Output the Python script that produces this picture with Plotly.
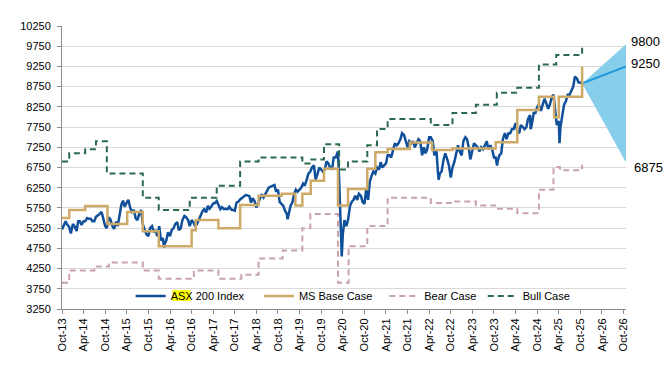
import plotly.graph_objects as go
import pandas as pd

# ---------------- DATA ----------------
# ASX 200 index, read semi-monthly (1st and 15th of each month) from Oct-2013 to Oct-2025
asx_values = [
    # 2013 Oct-Dec
    5220, 5300, 5420, 5330, 5280, 5120,
    # 2014
    5350, 5300, 5180, 5420, 5420, 5330, 5420, 5420, 5500, 5480, 5480, 5420,
    5420, 5530, 5560, 5600, 5650, 5450, 5300, 5250, 5520, 5460, 5300, 5230,
    # 2015
    5410, 5300, 5600, 5830, 5930, 5780, 5880, 5950, 5750, 5650, 5700, 5500,
    5450, 5600, 5700, 5350, 5200, 5100, 5050, 5250, 5300, 5150, 5200, 5050,
    # 2016
    5300, 4950, 5000, 4850, 4950, 5150, 5050, 5200, 5250, 5350, 5400, 5200,
    5250, 5450, 5550, 5520, 5450, 5300, 5450, 5400, 5300, 5350, 5450, 5580,
    # 2017
    5670, 5720, 5640, 5800, 5730, 5780, 5860, 5870, 5920, 5830, 5720, 5770,
    5720, 5730, 5720, 5780, 5710, 5700, 5680, 5880, 5910, 5960, 6000, 6020,
    # 2018
    6070, 6060, 6040, 5880, 5990, 5930, 5760, 5850, 6010, 6090, 6010, 6090,
    6190, 6250, 6280, 6300, 6320, 6150, 6200, 5900, 5830, 5800, 5670, 5600,
    # 2019
    5650, 5800, 5900, 6100, 6200, 6150, 6200, 6250, 6350, 6300, 6450, 6600,
    6650, 6750, 6800, 6450, 6600, 6750, 6700, 6650, 6700, 6900, 6850, 6750,
    # 2020
    6700, 7000, 7000, 7100, 6450, 5200, 5100, 5450, 5300, 5450, 5800, 5900,
    5950, 6050, 5950, 6100, 6050, 5900, 5850, 6200, 5950, 6400, 6550, 6650,
    # 2021
    6600, 6750, 6700, 6880, 6750, 6800, 6850, 7050, 7050, 7000, 7200, 7350,
    7300, 7350, 7450, 7600, 7550, 7400, 7250, 7400, 7350, 7400, 7250, 7350,
    # 2022
    7450, 7400, 7050, 7250, 7100, 7200, 7500, 7500, 7400, 7050, 7200, 6600,
    6600, 6650, 6950, 7100, 6950, 6800, 6500, 6750, 6900, 7100, 7300, 7150,
    # 2023
    7050, 7400, 7500, 7450, 7250, 6950, 7200, 7350, 7300, 7250, 7150, 7250,
    7200, 7300, 7400, 7200, 7300, 7200, 7000, 7000, 6900, 7050, 7100, 7450,
    # 2024
    7600, 7450, 7600, 7600, 7700, 7700, 7850, 7650, 7600, 7800, 7750, 7700,
    7750, 7950, 8050, 7800, 8100, 8100, 8250, 8300, 8150, 8300, 8450, 8350,
    # 2025 Jan-Oct
    8200, 8300, 8500, 8550, 8200, 7800, 7900, 7750, 8100, 8300, 8400, 8550,
    8550, 8650, 8750, 9000, 8950, 8850, 8850, 8830,
]
# extra readings at sharp turning points
asx_extra_dates = ["2016-02-11", "2018-12-21", "2020-02-20", "2020-03-23",
                   "2022-06-20", "2023-10-27", "2024-08-06", "2025-04-07"]
asx_extra_values = [4770, 5470, 7150, 4550, 6450, 6800, 7700, 7350]

# Morgan Stanley scenarios (step series: date each level starts, level)
base_dates = ["2013-10-01", "2013-12-01", "2014-04-15", "2014-10-20", "2015-04-05",
              "2015-08-15", "2015-12-28", "2016-10-01", "2016-11-05", "2017-05-15",
              "2017-11-15", "2018-04-20", "2018-11-01", "2019-02-25", "2019-04-25",
              "2019-07-05", "2019-10-25", "2020-02-20", "2020-05-15", "2020-10-25",
              "2021-01-01", "2021-04-15", "2021-10-20", "2022-04-25", "2022-10-15",
              "2023-10-15", "2024-04-15", "2024-10-15", "2025-02-20", "2025-04-01",
              "2025-10-15"]
base_values = [5500, 5700, 5800, 5350, 5650,
               5175, 4800, 5200, 5450, 5250,
               5820, 6050, 6100, 5810, 6100,
               6420, 6720, 5810, 6220, 6720,
               7130, 7210, 7370, 7180, 7220,
               7375, 8170, 8500, 7990, 8500,
               9250]

bear_dates = ["2013-10-01", "2013-12-01", "2014-07-01", "2014-11-01", "2015-08-15",
              "2015-12-28", "2016-10-20", "2017-05-15", "2017-11-25", "2018-04-20",
              "2018-11-10", "2019-04-25", "2019-07-01", "2020-02-20", "2020-05-20",
              "2020-10-25", "2021-04-15", "2022-04-15", "2022-10-15", "2023-05-01",
              "2023-10-25", "2024-04-15", "2024-10-15", "2025-02-15", "2025-04-10",
              "2025-10-15"]
bear_values = [3900, 4200, 4300, 4400, 4200,
               4000, 4200, 4000, 4100, 4500,
               4700, 5250, 5600, 3900, 4800,
               5300, 6000, 5870, 5910, 5810,
               5730, 5620, 6200, 6760, 6680,
               6820]

bull_dates = ["2013-10-01", "2013-12-01", "2014-04-15", "2014-07-15", "2014-10-15",
              "2015-08-15", "2015-12-28", "2016-09-15", "2017-05-01", "2017-11-15",
              "2018-04-20", "2019-04-25", "2019-06-25", "2019-10-25", "2020-03-01",
              "2020-05-15", "2020-10-25", "2021-01-15", "2021-04-15", "2022-04-15",
              "2022-10-15", "2023-05-01", "2023-10-25", "2024-04-15", "2024-10-15",
              "2025-03-10", "2025-10-15"]
bull_values = [6900, 7100, 7200, 7400, 6600,
               6000, 5700, 6000, 6300, 6900,
               7000, 6850, 6950, 7325, 6700,
               6900, 7300, 7700, 7950, 7800,
               8100, 8300, 8600, 8720, 9300,
               9530, 9800]

# 12-month targets (fan)
fan_start_date = "2025-10-15"
fan_end_date = "2026-10-21"
target_labels = ["9800", "9250", "6875"]
target_values = [9800, 9250, 6875]

# axis
x_range = ["2013-10-01", "2026-10-21"]
y_min, y_max, y_step = 3250, 10250, 500

# ---------------- BUILD ----------------
def semi_monthly(y0, m0, y1, m1):
    out = []
    y, m = y0, m0
    while (y, m) <= (y1, m1):
        out.append(f"{y}-{m:02d}-01")
        out.append(f"{y}-{m:02d}-15")
        m += 1
        if m > 12:
            m, y = 1, y + 1
    return out

grid_dates = semi_monthly(2013, 10, 2025, 10)
asx = pd.DataFrame({"d": pd.to_datetime(grid_dates + asx_extra_dates),
                    "v": asx_values + asx_extra_values}).sort_values("d")

BLUE = "#10509A"
GOLD = "#CDAA68"
PINK = "#C9A2AF"
GREEN = "#2B6A4E"
FAN = "#87CEEB"
FANLINE = "#1E98DC"
FONT = "Liberation Sans, Arial, sans-serif"

fan_start_val = asx_values[-1]
bull_t, base_t, bear_t = target_values

fig = go.Figure()
fig.add_trace(go.Scatter(
    x=[fan_start_date, fan_end_date, fan_end_date, fan_start_date],
    y=[fan_start_val, bull_t, bear_t, fan_start_val],
    mode="lines", fill="toself", fillcolor=FAN, line=dict(width=0, color=FAN),
    showlegend=False, hoverinfo="skip"))
fig.add_trace(go.Scatter(
    x=[fan_start_date, fan_end_date], y=[fan_start_val, base_t],
    mode="lines", line=dict(color=FANLINE, width=2), showlegend=False))

fig.add_trace(go.Scatter(x=asx["d"], y=asx["v"], mode="lines", name="ASX 200 Index",
                         line=dict(color=BLUE, width=2.5), legend="legend"))
fig.add_trace(go.Scatter(x=base_dates, y=base_values, mode="lines", name="MS Base Case",
                         line=dict(color=GOLD, width=2.5, shape="hv"), legend="legend2"))
fig.add_trace(go.Scatter(x=bear_dates, y=bear_values, mode="lines", name="Bear Case",
                         line=dict(color=PINK, width=2, shape="hv", dash="6px,4px"),
                         legend="legend3"))
fig.add_trace(go.Scatter(x=bull_dates, y=bull_values, mode="lines", name="Bull Case",
                         line=dict(color=GREEN, width=2, shape="hv", dash="6px,4px"),
                         legend="legend4"))

# The page body has an 8px default margin, so the figure is drawn 8px in from
# the window's top-left corner. Screen-space targets are converted accordingly.
OFF = 8
W, H = 671 - 2 * OFF, 374 - 2 * OFF
PLOT_L, PLOT_R, PLOT_T, PLOT_B = 59, 626, 25, 309   # screen px of plot area
L = PLOT_L - OFF
T = PLOT_T - OFF
R = W - (PLOT_R - OFF)
B = H - (PLOT_B - OFF)
pw = PLOT_R - PLOT_L
ph = PLOT_B - PLOT_T

def px2paper_x(sx):
    return (sx - PLOT_L) / pw

def px2paper_y(sy):
    return (PLOT_B - sy) / ph

leg_y = px2paper_y(296)
leg_common = dict(orientation="h", xanchor="left", yanchor="middle", y=leg_y,
                  bgcolor="rgba(0,0,0,0)", borderwidth=0,
                  font=dict(family=FONT, size=11, color="#000000"))

annotations = []
label_shift = [(3, 3), (3, 3), (6, -5)]
for lab, val, (xs, ys) in zip(target_labels, target_values, label_shift):
    annotations.append(dict(x=1.0, xref="paper", y=val, yref="y", text=lab,
                            showarrow=False, xanchor="left", yanchor="middle",
                            xshift=xs, yshift=ys,
                            font=dict(family=FONT, size=13, color="#000000")))

fig.update_layout(
    width=W, height=H,
    margin=dict(l=L, r=R, t=T, b=B, pad=0),
    paper_bgcolor="white", plot_bgcolor="white",
    font=dict(family=FONT, size=11, color="#000000"),
    showlegend=True,
    legend=dict(x=px2paper_x(128), **leg_common),
    legend2=dict(x=px2paper_x(257), **leg_common),
    legend3=dict(x=px2paper_x(383), **leg_common),
    legend4=dict(x=px2paper_x(482), **leg_common),
    annotations=annotations,
    shapes=[dict(type="rect", xref="paper", yref="paper", layer="above",
                 x0=px2paper_x(170), x1=px2paper_x(188),
                 y0=px2paper_y(301), y1=px2paper_y(290),
                 fillcolor="#FFFF00", line=dict(width=0))],
    xaxis=dict(type="date", range=x_range, tick0="2013-10-01", dtick="M6",
               tickformat="%b-%y", tickangle=-90, showgrid=False,
               showline=True, linecolor="#8C8C8C", linewidth=1,
               ticks="outside", ticklen=4, tickcolor="#8C8C8C",
               tickfont=dict(family=FONT, size=11, color="#000000"),
               zeroline=False),
    yaxis=dict(range=[y_min, y_max], tick0=y_min, dtick=y_step, tickformat="d",
               showgrid=True, gridcolor="#D9D9D9", gridwidth=1,
               showline=True, linecolor="#8C8C8C", linewidth=1,
               ticks="outside", ticklen=4, tickcolor="#8C8C8C",
               ticklabelstandoff=4,
               tickfont=dict(family=FONT, size=11, color="#000000"),
               zeroline=False),
)

fig.write_html("out.html")
